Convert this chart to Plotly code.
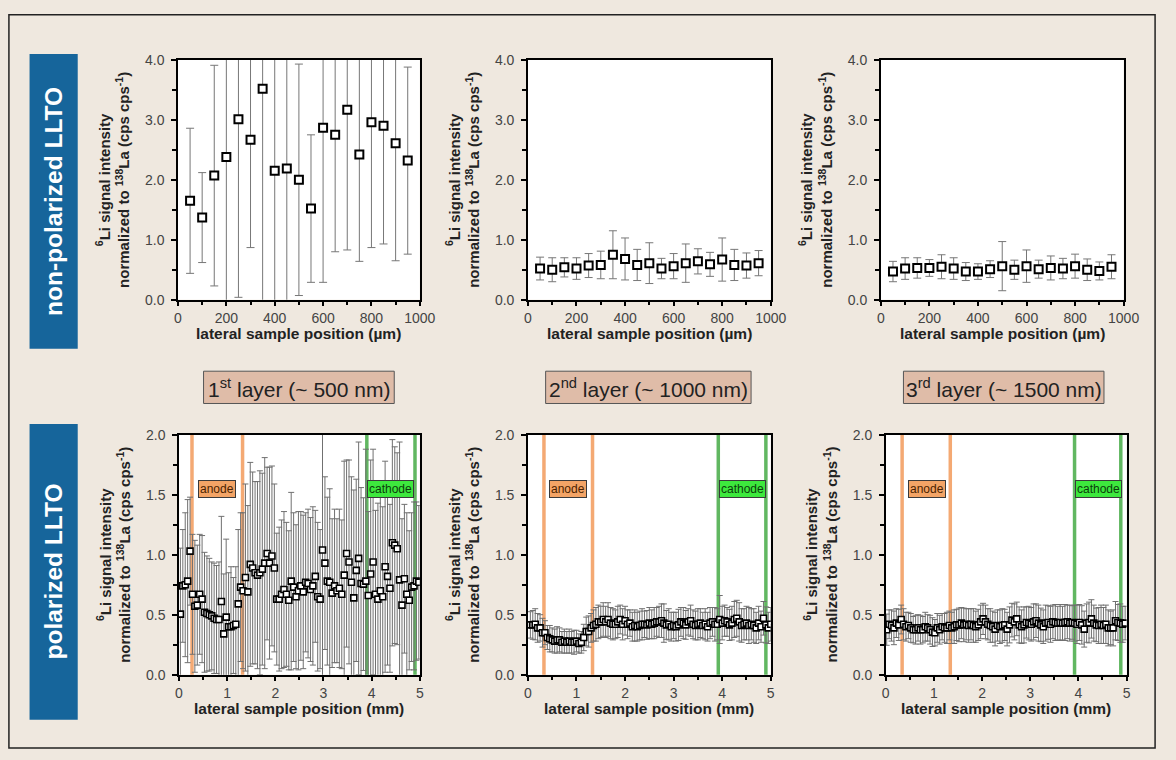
import plotly.graph_objects as go

W, H = 1176, 760
BG = "#efe8df"
FONT = "Liberation Sans, Arial, sans-serif"

# ---------------- data ----------------
# top row: non-polarized LLTO, lateral position in µm
top_x = [50, 100, 150, 200, 250, 300, 350, 400, 450, 500,
         550, 600, 650, 700, 750, 800, 850, 900, 950]
top1_y = [1.65, 1.37, 2.07, 2.38, 3.01, 2.67, 3.52, 2.15, 2.19, 2.00,
          1.52, 2.87, 2.75, 3.17, 2.42, 2.96, 2.90, 2.61, 2.32]
top1_err = [1.21, 0.75, 1.84, 2.50, 2.97, 1.80, 3.70, 2.30, 2.40, 1.93,
            1.23, 2.58, 1.95, 2.34, 1.78, 2.09, 1.97, 1.96, 1.56]
top2_y = [0.52, 0.50, 0.54, 0.52, 0.57, 0.58, 0.75, 0.68, 0.58, 0.61,
          0.52, 0.56, 0.61, 0.64, 0.59, 0.67, 0.58, 0.57, 0.61]
top2_err = [0.19, 0.20, 0.16, 0.18, 0.20, 0.23, 0.40, 0.35, 0.26, 0.34,
            0.17, 0.21, 0.32, 0.21, 0.20, 0.36, 0.26, 0.21, 0.21]
top3_y = [0.47, 0.52, 0.53, 0.53, 0.55, 0.52, 0.47, 0.47, 0.51, 0.56,
          0.50, 0.56, 0.51, 0.53, 0.52, 0.56, 0.50, 0.48, 0.55]
top3_err = [0.17, 0.18, 0.17, 0.14, 0.20, 0.18, 0.15, 0.13, 0.14, 0.41,
            0.16, 0.27, 0.15, 0.20, 0.17, 0.20, 0.18, 0.15, 0.20]

# bottom row: polarized LLTO, lateral position in mm (sampling grid 0.05 mm)
bot1_x0, bot2_x0, bot3_x0, bot_step = 0.03, 0.05, 0.02, 0.05
bot1_y = [0.505, 0.74, 0.75, 0.78, 1.03, 0.67, 0.57, 0.58, 0.67, 0.63,
          0.52, 0.51, 0.50, 0.49, 0.47, 0.46, 0.46, 0.61, 0.34, 0.48,
          0.40, 0.40, 0.41, 0.42, 0.59, 0.73, 0.70, 0.81, 0.69, 0.92,
          0.89, 0.85, 0.83, 0.85, 0.88, 0.93, 1.01, 0.93, 0.99, 0.89,
          0.63, 0.63, 0.67, 0.71, 0.67, 0.62, 0.78, 0.73, 0.65, 0.70,
          0.74, 0.69, 0.77, 0.76, 0.71, 0.74, 0.82, 0.65, 0.63, 1.04,
          0.93, 0.78, 0.77, 0.68, 0.74, 0.70, 0.72, 0.67, 0.83, 1.01,
          0.94, 0.77, 0.64, 0.87, 0.97, 0.76, 0.755, 0.78, 0.66, 0.84,
          0.94, 0.67, 0.63, 0.70, 0.65, 0.90, 0.82, 0.72, 1.10, 1.08,
          1.05, 0.79, 0.58, 0.80, 0.67, 0.62, 0.73, 0.74, 0.78, 0.77]
bot1_err = [0.55, 0.47, 0.60, 0.68, 0.45, 0.50, 0.55, 0.50, 0.50, 0.53,
            0.50, 0.48, 0.47, 0.45, 0.46, 0.45, 0.48, 0.71, 0.50, 0.65,
            0.45, 0.50, 0.40, 0.48, 0.62, 0.62, 0.65, 0.78, 0.72, 0.85,
            0.80, 0.76, 0.78, 0.85, 0.80, 0.88, 0.72, 0.80, 0.75, 0.70,
            0.55, 0.60, 0.62, 0.65, 0.60, 0.58, 0.74, 0.62, 0.60, 0.66,
            0.62, 0.64, 0.58, 0.62, 0.60, 0.66, 0.55, 0.62, 0.58, 1.20,
            0.72, 0.70, 0.78, 0.62, 0.64, 0.60, 0.66, 0.62, 0.95, 0.78,
            0.85, 0.88, 0.90, 0.76, 0.97, 0.80, 0.72, 1.10, 0.70, 0.95,
            0.94, 0.70, 0.80, 0.90, 0.75, 0.88, 0.74, 0.70, 0.86, 0.82,
            0.80, 1.15, 0.72, 0.62, 0.68, 0.58, 0.62, 0.70, 0.66, 0.64]
bot2_y = [0.415, 0.415, 0.42, 0.39, 0.39, 0.35, 0.35, 0.31, 0.30, 0.29,
          0.28, 0.29, 0.29, 0.27, 0.28, 0.27, 0.28, 0.27, 0.27, 0.28,
          0.26, 0.27, 0.31, 0.36, 0.36, 0.39, 0.41, 0.42, 0.44, 0.44,
          0.46, 0.44, 0.46, 0.43, 0.42, 0.42, 0.44, 0.46, 0.42, 0.45,
          0.42, 0.43, 0.40, 0.41, 0.40, 0.41, 0.42, 0.42, 0.415, 0.43,
          0.42, 0.43, 0.44, 0.44, 0.45, 0.43, 0.415, 0.42, 0.40, 0.41,
          0.40, 0.415, 0.44, 0.43, 0.415, 0.44, 0.45, 0.42, 0.41, 0.42,
          0.43, 0.41, 0.42, 0.40, 0.43, 0.44, 0.42, 0.42, 0.46, 0.43,
          0.45, 0.44, 0.415, 0.43, 0.46, 0.47, 0.44, 0.41, 0.42, 0.43,
          0.41, 0.42, 0.41, 0.39, 0.43, 0.40, 0.47, 0.415, 0.39, 0.42]
bot2_err = [0.11, 0.12, 0.13, 0.12, 0.11, 0.12, 0.10, 0.10, 0.11, 0.10,
            0.10, 0.11, 0.10, 0.09, 0.10, 0.09, 0.10, 0.09, 0.10, 0.09,
            0.08, 0.09, 0.11, 0.12, 0.13, 0.12, 0.13, 0.14, 0.14, 0.13,
            0.14, 0.13, 0.14, 0.13, 0.13, 0.12, 0.13, 0.12, 0.13, 0.12,
            0.12, 0.11, 0.12, 0.13, 0.12, 0.12, 0.13, 0.11, 0.12, 0.13,
            0.12, 0.13, 0.12, 0.13, 0.14, 0.16, 0.12, 0.13, 0.12, 0.11,
            0.12, 0.13, 0.12, 0.13, 0.12, 0.11, 0.13, 0.12, 0.12, 0.13,
            0.12, 0.11, 0.13, 0.12, 0.13, 0.12, 0.14, 0.13, 0.20, 0.14,
            0.13, 0.12, 0.13, 0.14, 0.15, 0.15, 0.16, 0.14, 0.13, 0.14,
            0.15, 0.13, 0.14, 0.13, 0.14, 0.13, 0.14, 0.15, 0.13, 0.14]
bot3_y = [0.375, 0.42, 0.41, 0.39, 0.43, 0.415, 0.46, 0.42, 0.40, 0.41,
          0.39, 0.375, 0.375, 0.39, 0.375, 0.375, 0.40, 0.39, 0.375, 0.355,
          0.35, 0.39, 0.375, 0.40, 0.39, 0.39, 0.41, 0.39, 0.40, 0.415,
          0.415, 0.43, 0.415, 0.42, 0.41, 0.42, 0.41, 0.40, 0.415, 0.44,
          0.465, 0.44, 0.42, 0.41, 0.40, 0.38, 0.41, 0.40, 0.41, 0.415,
          0.38, 0.415, 0.455, 0.44, 0.465, 0.415, 0.40, 0.415, 0.435, 0.43,
          0.42, 0.44, 0.45, 0.43, 0.415, 0.40, 0.43, 0.435, 0.42, 0.44,
          0.435, 0.43, 0.435, 0.43, 0.435, 0.44, 0.43, 0.435, 0.43, 0.42,
          0.435, 0.415, 0.38, 0.43, 0.435, 0.465, 0.43, 0.415, 0.41, 0.42,
          0.41, 0.42, 0.39, 0.39, 0.39, 0.45, 0.435, 0.43, 0.42, 0.43]
bot3_err = [0.13, 0.12, 0.13, 0.14, 0.12, 0.13, 0.12, 0.13, 0.12, 0.11,
            0.12, 0.11, 0.12, 0.11, 0.12, 0.11, 0.12, 0.11, 0.12, 0.12,
            0.11, 0.12, 0.12, 0.11, 0.12, 0.13, 0.12, 0.13, 0.14, 0.13,
            0.14, 0.13, 0.14, 0.13, 0.14, 0.13, 0.14, 0.13, 0.13, 0.14,
            0.13, 0.14, 0.13, 0.14, 0.13, 0.14, 0.13, 0.14, 0.14, 0.13,
            0.14, 0.15, 0.14, 0.15, 0.14, 0.15, 0.14, 0.15, 0.13, 0.14,
            0.14, 0.15, 0.14, 0.15, 0.14, 0.14, 0.15, 0.14, 0.15, 0.14,
            0.15, 0.14, 0.15, 0.14, 0.15, 0.14, 0.15, 0.14, 0.15, 0.16,
            0.15, 0.16, 0.15, 0.16, 0.17, 0.16, 0.15, 0.14, 0.15, 0.16,
            0.15, 0.16, 0.15, 0.14, 0.15, 0.16, 0.15, 0.16, 0.15, 0.14]

def grid(x0, n):
    return [round(x0 + bot_step * i, 3) for i in range(n)]

bot1_x = grid(bot1_x0, len(bot1_y))
bot2_x = grid(bot2_x0, len(bot2_y))
bot3_x = grid(bot3_x0, len(bot3_y))

# electrode line positions (mm)
anode_lines = [[0.27, 1.32], [0.33, 1.33], [0.34, 1.34]]
cathode_lines = [[3.90, 4.90], [3.92, 4.90], [3.92, 4.88]]
anode_label_x = [0.79, 0.83, 0.85]
cathode_label_x = [4.39, 4.41, 4.41]

layer_labels = ["1<sup>st</sup> layer (~ 500 nm)", "2<sup>nd</sup> layer (~ 1000 nm)",
                "3<sup>rd</sup> layer (~ 1500 nm)"]
row_labels = ["non-polarized LLTO", "polarized LLTO"]
ytitle = ("<b><sup>6</sup>Li signal intensity</b><br>"
          "<b>normalized to <sup>138</sup>La (cps cps<sup>-1</sup>)</b>")
xtitle_top = "lateral sample position (µm)"
xtitle_bot = "lateral sample position (mm)"

# ---------------- layout geometry (pixels) ----------------
panels = [
    dict(x=(177, 423), y=(53, 298), top=True, xs=top_x, ys=top1_y, es=top1_err),
    dict(x=(533, 780), y=(53, 298), top=True, xs=top_x, ys=top2_y, es=top2_err),
    dict(x=(892, 1139), y=(53, 298), top=True, xs=top_x, ys=top3_y, es=top3_err),
    dict(x=(178, 423), y=(436, 681), top=False, xs=bot1_x, ys=bot1_y, es=bot1_err),
    dict(x=(533, 780), y=(436, 681), top=False, xs=bot2_x, ys=bot2_y, es=bot2_err),
    dict(x=(897, 1142), y=(436, 681), top=False, xs=bot3_x, ys=bot3_y, es=bot3_err),
]

def px(x):
    return x / W

def py(y):
    return 1 - y / H

fig = go.Figure()
layout = dict(
    width=W, height=H, margin=dict(l=0, r=0, t=0, b=0),
    paper_bgcolor=BG, plot_bgcolor="white", showlegend=False,
    font=dict(family=FONT, color="#222"),
)
shapes = []
annotations = []

def paper_text(text, x, y, size, color="#222", angle=0, family=FONT):
    annotations.append(dict(text=text, x=px(x), y=py(y), xref="paper", yref="paper",
                            showarrow=False, textangle=angle, xanchor="center",
                            yanchor="middle", font=dict(size=size, family=family, color=color)))

for i, p in enumerate(panels):
    n = "" if i == 0 else str(i + 1)
    xa, ya = "xaxis" + n, "yaxis" + n
    top = p["top"]
    common = dict(showline=True, linecolor="black", linewidth=1.5, mirror=True,
                  ticks="outside", ticklen=5, tickwidth=1.5, tickcolor="black",
                  showgrid=False, zeroline=False, tick0=0,
                  tickfont=dict(size=14, color="#444", family=FONT))
    layout[xa] = dict(common, domain=[px(p["x"][0]), px(p["x"][1])], anchor="y" + n,
                      range=[0, 1000] if top else [0, 5],
                      dtick=200 if top else 1,
                      minor=dict(ticks="outside", ticklen=4, tickwidth=1.5, tickcolor="black",
                                 dtick=100 if top else 0.5, showgrid=False))
    layout[ya] = dict(common, domain=[py(p["y"][1]), py(p["y"][0])], anchor="x" + n,
                      range=[0, 4] if top else [0, 2],
                      dtick=1 if top else 0.5, tickformat=".1f",
                      ticklabelstandoff=4,
                      minor=dict(ticks="outside", ticklen=4, tickwidth=1.5, tickcolor="black",
                                 dtick=0.5 if top else 0.25, showgrid=False))

    fig.add_trace(go.Scatter(
        x=p["xs"], y=p["ys"], xaxis="x" + n, yaxis="y" + n, mode="markers",
        marker=dict(symbol="square", size=8 if top else 6, color="white",
                    line=dict(color="black", width=2 if top else 1.6)),
        error_y=dict(type="data", array=p["es"], visible=True,
                     color="#777" if top else "#707070", thickness=1,
                     width=4 if top else 3),
    ))

    cx = (p["x"][0] + p["x"][1]) / 2
    cy = (p["y"][0] + p["y"][1]) / 2
    paper_text(ytitle, p["x"][0] - 66, cy, 15, angle=-90)
    paper_text("<b>%s</b>" % (xtitle_top if top else xtitle_bot), cx, p["y"][1] + 35, 15.5)

    if not top:
        k = i - 3
        for xv in anode_lines[k]:
            shapes.append(dict(type="line", xref="x" + n, yref="y" + n + " domain",
                               x0=xv, x1=xv, y0=0, y1=1, layer="below",
                               line=dict(color="rgba(243,160,100,0.9)", width=3.5)))
        for xv in cathode_lines[k]:
            shapes.append(dict(type="line", xref="x" + n, yref="y" + n + " domain",
                               x0=xv, x1=xv, y0=0, y1=1, layer="below",
                               line=dict(color="rgba(80,175,80,0.9)", width=3.5)))
        annotations.append(dict(text="anode", x=anode_label_x[k], y=1.55,
                                xref="x" + n, yref="y" + n, showarrow=False,
                                xanchor="center", yanchor="middle",
                                bgcolor="#f3a466", bordercolor="#3a3a3a", borderwidth=1,
                                borderpad=1, font=dict(size=12, family=FONT, color="#4a2200")))
        annotations.append(dict(text="cathode", x=cathode_label_x[k], y=1.55,
                                xref="x" + n, yref="y" + n, showarrow=False,
                                xanchor="center", yanchor="middle",
                                bgcolor="#3de83d", bordercolor="#3a3a3a", borderwidth=1,
                                borderpad=1, font=dict(size=12, family=FONT, color="#0b3d0b")))

# row banners
for (y0, y1), lab in zip([(47, 348), (425, 727)], row_labels):
    shapes.append(dict(type="rect", xref="paper", yref="paper",
                       x0=px(26), x1=px(75), y0=py(y1), y1=py(y0),
                       fillcolor="#16659b", line=dict(width=0), layer="above"))
    paper_text("<b>%s</b>" % lab, 50.5, (y0 + y1) / 2, 24.5, color="white", angle=-90)

# layer labels
for (x0, x1), lab in zip([(203, 397), (551, 760), (915, 1119)], layer_labels):
    shapes.append(dict(type="rect", xref="paper", yref="paper",
                       x0=px(x0), x1=px(x1), y0=py(404), y1=py(371),
                       fillcolor="#dfbca8", line=dict(color="#555", width=1)))
    paper_text(lab, (x0 + x1) / 2, 388, 21)

# outer frame
shapes.append(dict(type="rect", xref="paper", yref="paper",
                   x0=px(5), x1=px(1171), y0=py(756), y1=py(7),
                   line=dict(color="#222", width=1.5), fillcolor="rgba(0,0,0,0)"))

layout["shapes"] = shapes
layout["annotations"] = annotations
fig.update_layout(**layout)

fig.write_html("out.html", config={"displayModeBar": False},
               post_script="document.body.style.margin='0';document.body.style.background='%s';"
                           "document.body.style.overflow='hidden';" % BG)
